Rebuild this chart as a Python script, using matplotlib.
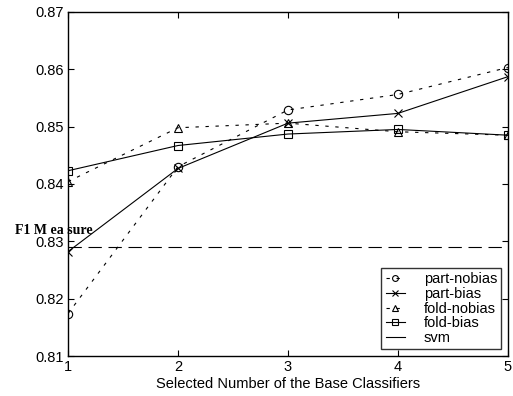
import numpy as np
import matplotlib.pyplot as plt

# Данні з графіка
x = [1, 2, 3, 4, 5]
part_nobias = [0.8174, 0.8430, 0.8529, 0.8556, 0.8603]
part_bias = [0.8282, 0.8427, 0.8506, 0.8523, 0.8587]
fold_nobias = [0.8404, 0.8498, 0.8506, 0.8491, 0.8485]
fold_bias = [0.8423, 0.8467, 0.8487, 0.8495, 0.8485]
svm = 0.8290

plt.rcParams['font.family'] = ['Liberation Sans', 'DejaVu Sans']

fig = plt.figure(figsize=(5.13, 3.96), dpi=100)
ax = fig.add_axes([0.1326, 0.101, 0.8574, 0.869])

lw = 0.8
ms = 6
ax.plot(x, part_nobias, color='k', lw=lw, ls=(0, (3, 6)), marker='o', ms=ms,
        mfc='none', mew=lw, label='part-nobias')
ax.plot(x, part_bias, color='k', lw=lw, ls='-', marker='x', ms=5.5,
        mew=lw, label='part-bias')
ax.plot(x, fold_nobias, color='k', lw=lw, ls=(0, (3, 6)), marker='^', ms=ms,
        mfc='none', mew=lw, label='fold-nobias')
ax.plot(x, fold_bias, color='k', lw=lw, ls='-', marker='s', ms=ms,
        mfc='none', mew=lw, label='fold-bias')
ax.plot([x[0], x[-1]], [svm, svm], color='k', lw=lw, ls=(0, (12, 6)))
ax.plot([], [], color='k', lw=lw, ls='-', label='svm')

ax.set_xlim(1, 5)
ax.set_ylim(0.81, 0.87)
ax.set_xticks(x)
ax.set_yticks([0.81, 0.82, 0.83, 0.84, 0.85, 0.86, 0.87])
ax.set_yticklabels(['0.81', '0.82', '0.83', '0.84', '0.85', '0.86', '0.87'])
ax.tick_params(direction='in', top=True, right=True, labelsize=10.5,
               length=4, width=0.8, pad=3)
for s in ax.spines.values():
    s.set_linewidth(1.0)

ax.set_xlabel('Selected Number of the Base Classifiers', fontsize=10.5, labelpad=2)
fig.text(0.029, 0.418, 'F1 M ea sure', family=['Liberation Serif', 'DejaVu Serif'],
         fontsize=10, fontweight='bold', va='center', ha='left')

leg = ax.legend(loc='lower right', fontsize=10.5, frameon=True, fancybox=False,
                edgecolor='k', handlelength=1.3, handletextpad=1.3,
                markerscale=0.7, labelspacing=0.05, borderpad=0.3,
                borderaxespad=0.45)
leg.get_frame().set_linewidth(1.0)

fig.savefig('out.png', dpi=100)
